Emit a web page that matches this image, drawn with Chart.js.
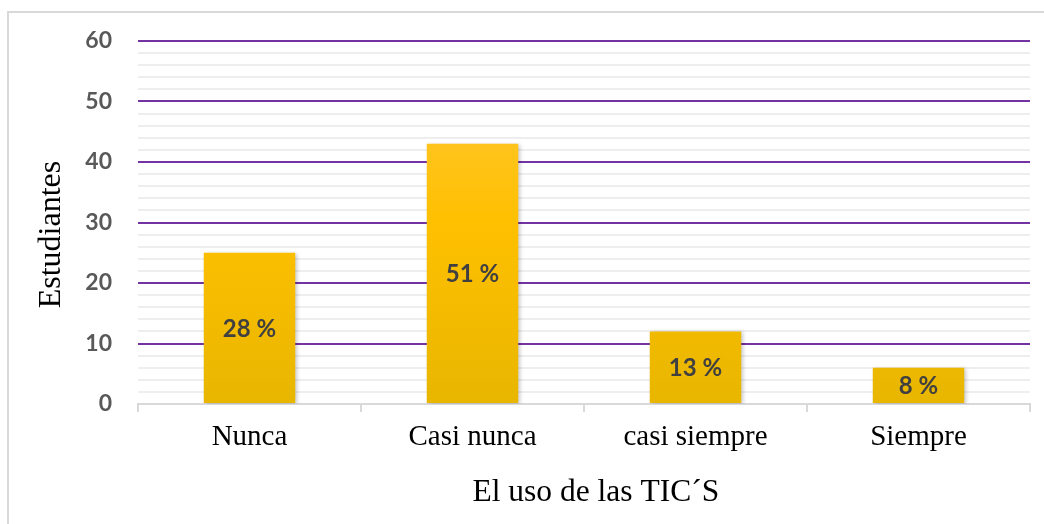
<!DOCTYPE html>
<html lang="es">
<head>
    <meta charset="UTF-8">
    <title>El uso de las TIC´S</title>
    <script src="https://cdn.jsdelivr.net/npm/chart.js"></script>
    <style>
        html, body { margin: 0; padding: 0; background: #ffffff; }
        #wrap { width: 1044px; height: 524px; }
    </style>
</head>
<body>
    <div id="wrap">
        <canvas id="ticChart" width="1044" height="524"></canvas>
    </div>

    <script>
        // datos
        const categorias = ['Nunca', 'Casi nunca', 'casi siempre', 'Siempre'];
        const estudiantes = [25, 43, 12, 6];
        const porcentajes = ['28 %', '51 %', '13 %', '8 %'];
        const ejeYMax = 60;

        // relleno degradado de las barras
        function barraDegradado(context) {
            const area = context.chart.chartArea;
            if (!area) return '#FFC000';
            const el = context.element;
            const top = el && el.y !== undefined ? el.y : area.top;
            const base = el && el.base !== undefined ? el.base : area.bottom;
            if (!isFinite(top) || !isFinite(base) || top === base) return '#FFC000';
            const g = context.chart.ctx.createLinearGradient(0, top, 0, base);
            g.addColorStop(0, '#FFC842');
            g.addColorStop(0.5, '#FFC000');
            g.addColorStop(1, '#E8B600');
            return g;
        }

        // marco exterior gris
        const marco = {
            id: 'marco',
            beforeDraw(chart) {
                const c = chart.ctx;
                c.save();
                c.strokeStyle = '#d9d9d9';
                c.lineWidth = 2;
                c.strokeRect(8, 12, chart.width + 20, chart.height + 20);
                c.restore();
            }
        };

        // sombra suave de las barras
        const sombra = {
            id: 'sombra',
            beforeDatasetDraw(chart) {
                const c = chart.ctx;
                c.save();
                c.shadowColor = 'rgba(0,0,0,0.22)';
                c.shadowBlur = 4;
                c.shadowOffsetX = 2;
                c.shadowOffsetY = 1;
            },
            afterDatasetDraw(chart) {
                chart.ctx.restore();
            }
        };

        // porcentajes dentro de cada barra
        const etiquetas = {
            id: 'etiquetas',
            afterDatasetsDraw(chart) {
                const c = chart.ctx;
                const meta = chart.getDatasetMeta(0);
                c.save();
                c.font = 'bold 24px Lato, "Open Sans", sans-serif';
                c.fillStyle = '#404040';
                c.textAlign = 'center';
                c.textBaseline = 'middle';
                meta.data.forEach((bar, i) => {
                    c.fillText(porcentajes[i], bar.x, (bar.y + bar.base) / 2 + 1);
                });
                c.restore();
            }
        };

        const ctx = document.getElementById('ticChart').getContext('2d');
        new Chart(ctx, {
            type: 'bar',
            data: {
                labels: categorias,
                datasets: [{
                    label: 'Estudiantes',
                    data: estudiantes,
                    backgroundColor: barraDegradado,
                    borderWidth: 0,
                    categoryPercentage: 1,
                    barPercentage: 0.41
                }]
            },
            options: {
                responsive: false,
                animation: false,
                layout: { padding: { left: 0, right: 14, top: 41, bottom: 0 } },
                plugins: {
                    legend: { display: false },
                    tooltip: { enabled: false }
                },
                scales: {
                    x: {
                        afterFit(scale) { scale.height = 120; },
                        grid: {
                            offset: true,
                            drawOnChartArea: false,
                            drawTicks: true,
                            tickLength: 8,
                            color: '#d9d9d9',
                            lineWidth: 2
                        },
                        border: { display: true, color: '#d9d9d9', width: 2 },
                        ticks: {
                            color: '#000000',
                            padding: 8,
                            font: { family: '"Liberation Serif", "Times New Roman", serif', size: 29 }
                        },
                        title: {
                            display: true,
                            text: '\u00a0\u00a0\u00a0El uso de las TIC´S',
                            color: '#000000',
                            padding: { top: 0, bottom: 12 },
                            font: { family: '"Liberation Serif", "Times New Roman", serif', size: 31.5 }
                        }
                    },
                    y: {
                        min: 0,
                        max: ejeYMax,
                        afterFit(scale) { scale.width = 138; },
                        grid: {
                            drawTicks: false,
                            color(c) {
                                const v = c.tick.value;
                                if (v === 0) return 'rgba(0,0,0,0)';
                                return v % 10 === 0 ? '#7333A3' : '#eeeeee';
                            },
                            lineWidth: 2
                        },
                        border: { display: false },
                        ticks: {
                            stepSize: 2,
                            autoSkip: false,
                            padding: 26,
                            color: '#595959',
                            font: { family: 'Lato, "Open Sans", sans-serif', size: 23, weight: 'bold' },
                            callback(value) {
                                return value % 10 === 0 ? value : '';
                            }
                        },
                        title: {
                            display: true,
                            text: 'Estudiantes\u00a0\u00a0\u00a0',
                            color: '#000000',
                            padding: { top: 32, bottom: 0 },
                            font: { family: '"Liberation Serif", "Times New Roman", serif', size: 32 }
                        }
                    }
                }
            },
            plugins: [marco, sombra, etiquetas]
        });
    </script>
</body>
</html>
